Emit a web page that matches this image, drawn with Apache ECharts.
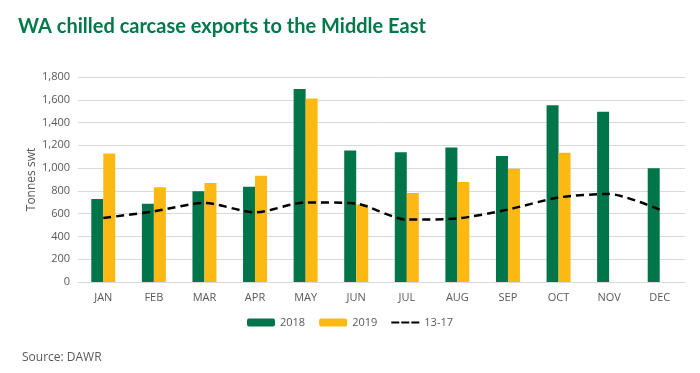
<!DOCTYPE html>
<html><head><meta charset="utf-8">
<script src="https://cdn.jsdelivr.net/npm/echarts@6/dist/echarts.min.js"></script>
<style>html,body{margin:0;padding:0;background:#fff}#c{width:700px;height:373px}</style>
</head><body><div id="c"></div>
<script>
const categories = ['JAN','FEB','MAR','APR','MAY','JUN','JUL','AUG','SEP','OCT','NOV','DEC'];
const s2018 = [729,686,797,837,1695,1154,1139,1182,1106,1551,1495,998];
const s2019 = [1128,832,870,933,1612,680,781,878,995,1134,null,null];
const avg1317 = [562,620,694,611,699,688,548,558,636,742,773,635];
const yTicks = [0,200,400,600,800,1000,1200,1400,1600,1800];

const chart = echarts.init(document.getElementById('c'));
chart.setOption({
  animation:false,
  title:[{text:'WA chilled carcase exports to the Middle East',left:13,top:12,
    textStyle:{color:'#00794A',fontFamily:'Lato',fontWeight:'bold',fontSize:20}},
    {text:'Source: DAWR',left:17,top:347,textStyle:{color:'#595959',fontFamily:'Open Sans',fontWeight:'normal',fontSize:12}}],
  legend:{bottom:40,left:'center',itemGap:14,itemWidth:28,itemHeight:8,
    textStyle:{color:'#595959',fontFamily:'Open Sans',fontSize:11},
    data:[{name:'2018'},{name:'2019'},{name:'13-17',icon:'path://M0,0H8V2H0Z M10,0H18V2H10Z M20,0H28V2H20Z',itemStyle:{color:'#000'}}]},
  grid:{left:78,right:15,top:77,bottom:91,containLabel:false},
  xAxis:{type:'category',data:categories,
    axisLine:{lineStyle:{color:'#d9d9d9'}},axisTick:{show:false},
    axisLabel:{color:'#595959',fontFamily:'Open Sans',fontSize:11,margin:10}},
  yAxis:{type:'value',min:0,max:1800,interval:200,name:'Tonnes swt',nameLocation:'middle',nameGap:40,nameMoveOverlap:false,
    nameTextStyle:{color:'#595959',fontFamily:'Open Sans',fontSize:12},
    splitLine:{lineStyle:{color:'#d9d9d9'}},axisLine:{show:false},axisTick:{show:false},
    axisLabel:{color:'#595959',fontFamily:'Open Sans',fontSize:11,
      formatter:v=>yTicks.includes(v)?v.toLocaleString('en-US'):''}},
  series:[
    {name:'2018',type:'bar',data:s2018,barWidth:12,barGap:'0%',itemStyle:{color:'#00754A'}},
    {name:'2019',type:'bar',data:s2019,barWidth:12,barGap:'0%',itemStyle:{color:'#FDB913'}},
    {name:'13-17',type:'line',data:avg1317,smooth:0.25,symbol:'none',
      lineStyle:{color:'#000',width:2.5,type:[8,5]},itemStyle:{color:'#000'}}
  ]
});
</script></body></html>
